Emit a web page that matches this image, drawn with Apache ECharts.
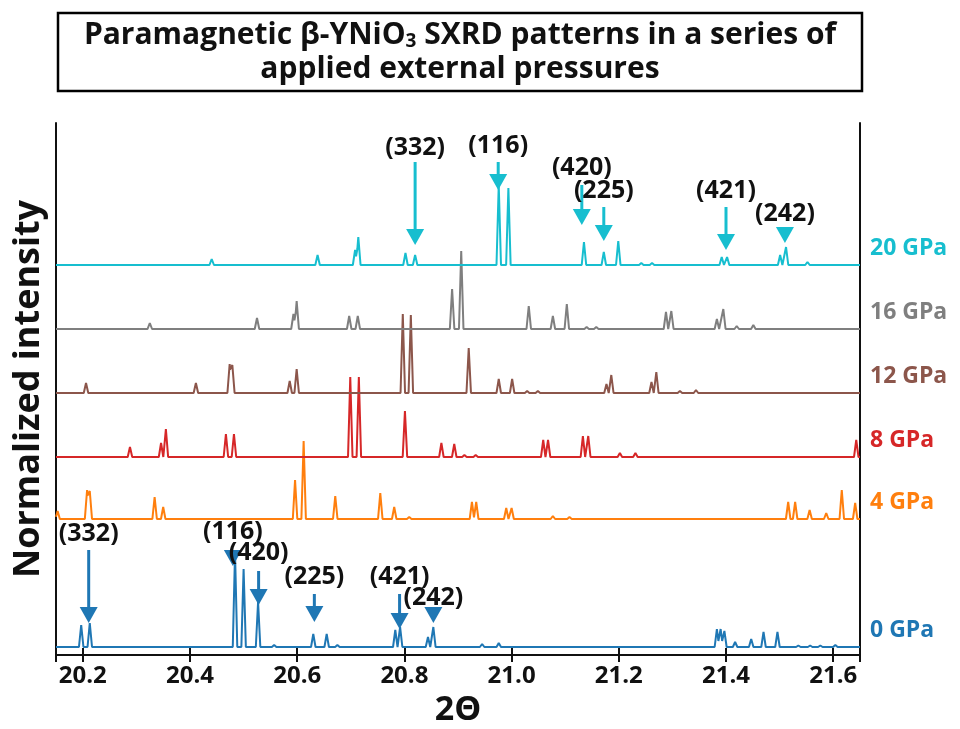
<!DOCTYPE html>
<html><head><meta charset="utf-8">
<script src="https://cdn.jsdelivr.net/npm/echarts@6/dist/echarts.min.js"></script>
<style>html,body{margin:0;padding:0;background:#fff}#c{width:960px;height:729px}</style>
</head><body><div id="c"></div>
<script>
// ---- data ----
const pressures = ['0 GPa', '4 GPa', '8 GPa', '12 GPa', '16 GPa', '20 GPa'];
const offsets = [0.08, 1.36, 1.98, 2.62, 3.26, 3.90];   // vertical stacking offset of each pattern
const colors = ['#1f77b4', '#ff7f0e', '#d62728', '#8c564b', '#7f7f7f', '#17becf'];

const pos0 = [20.197, 20.213, 20.484, 20.500, 20.527, 20.557, 20.630, 20.655, 20.675, 20.783, 20.792, 20.844, 20.854, 20.945, 20.976, 21.383, 21.390, 21.397, 21.417, 21.447, 21.470, 21.496, 21.535, 21.557, 21.576, 21.604];
const int0 = [0.22, 0.24, 0.94, 0.78, 0.45, 0.02, 0.13, 0.13, 0.02, 0.17, 0.20, 0.10, 0.20, 0.03, 0.04, 0.18, 0.18, 0.16, 0.05, 0.08, 0.15, 0.15, 0.015, 0.015, 0.015, 0.02];

const pos4 = [20.153, 20.208, 20.213, 20.334, 20.350, 20.596, 20.612, 20.671, 20.755, 20.781, 20.809, 20.926, 20.934, 20.990, 21.000, 21.077, 21.108, 21.516, 21.529, 21.556, 21.587, 21.616, 21.641];
const int4 = [0.08, 0.29, 0.28, 0.22, 0.12, 0.39, 0.78, 0.23, 0.26, 0.12, 0.02, 0.17, 0.17, 0.11, 0.11, 0.03, 0.02, 0.17, 0.17, 0.09, 0.06, 0.29, 0.16];

const pos8 = [20.288, 20.346, 20.355, 20.467, 20.482, 20.699, 20.715, 20.801, 20.869, 20.893, 20.912, 20.933, 21.059, 21.068, 21.133, 21.143, 21.202, 21.231, 21.643];
const int8 = [0.10, 0.14, 0.28, 0.23, 0.23, 0.80, 0.80, 0.46, 0.14, 0.13, 0.02, 0.02, 0.17, 0.17, 0.21, 0.21, 0.04, 0.04, 0.17];

const pos12 = [20.206, 20.411, 20.474, 20.479, 20.586, 20.599, 20.797, 20.812, 20.920, 20.976, 21.001, 21.029, 21.049, 21.177, 21.186, 21.261, 21.270, 21.314, 21.344];
const int12 = [0.10, 0.10, 0.29, 0.28, 0.12, 0.24, 0.79, 0.78, 0.45, 0.14, 0.14, 0.02, 0.02, 0.09, 0.18, 0.11, 0.21, 0.02, 0.03];

const pos16 = [20.325, 20.525, 20.593, 20.599, 20.697, 20.713, 20.889, 20.906, 21.032, 21.077, 21.103, 21.140, 21.158, 21.288, 21.298, 21.383, 21.395, 21.420, 21.451];
const int16 = [0.06, 0.11, 0.15, 0.28, 0.13, 0.13, 0.40, 0.78, 0.23, 0.13, 0.25, 0.02, 0.02, 0.17, 0.18, 0.10, 0.20, 0.03, 0.04];

const pos20 = [20.4405, 20.638, 20.708, 20.714, 20.802, 20.820, 20.976, 20.994, 21.135, 21.172, 21.199, 21.242, 21.262, 21.392, 21.402, 21.501, 21.512, 21.552];
const int20 = [0.06, 0.10, 0.15, 0.28, 0.12, 0.10, 0.80, 0.77, 0.23, 0.13, 0.24, 0.02, 0.02, 0.08, 0.08, 0.10, 0.18, 0.03];

// peak annotations (hkl), arrow x, arrow tip y, arrow tail y, label y
const hkl = ['(332)', '(116)', '(420)', '(225)', '(421)', '(242)'];
const annX20 = [20.820, 20.975, 21.131, 21.172, 21.400, 21.510];
const annTip20 = [4.10, 4.65, 4.30, 4.14, 4.05, 4.12];
const annTail20 = [4.93, 4.93, 4.70, 4.48, 4.48, 4.28];
const annLab20 = [5.07, 5.09, 4.87, 4.64, 4.64, 4.41];
const annX0 = [20.211, 20.480, 20.528, 20.632, 20.791, 20.854];
const annTip0 = [0.32, 0.89, 0.50, 0.33, 0.26, 0.32];
const annTail0 = [1.05, 1.04, 0.84, 0.61, 0.61, 0.48];
const annLab0 = [1.21, 1.23, 1.02, 0.78, 0.78, 0.57];

const X_MIN = 20.15, X_MAX = 21.65, Y_MAX = 5.32;
const FONT = '"Open Sans", "Noto Sans", sans-serif';

// ---- build line tables ----
function profile(pos, ints, base) {
  const hw = 0.0042;
  const xs = new Set([X_MIN, X_MAX]);
  pos.forEach(p => { xs.add(p - hw); xs.add(p); xs.add(p + hw); });
  const arr = [...xs].filter(x => x >= X_MIN && x <= X_MAX).sort((a, b) => a - b);
  return arr.map(x => {
    let y = base;
    pos.forEach((p, i) => { const d = Math.abs(x - p); if (d < hw) y += ints[i] * (1 - d / hw); });
    return [x, y];
  });
}
const allPos = [pos0, pos4, pos8, pos12, pos16, pos20];
const allInt = [int0, int4, int8, int12, int16, int20];

const lineSeries = pressures.map((name, k) => ({
  type: 'line', name, data: profile(allPos[k], allInt[k], offsets[k]),
  showSymbol: false, symbol: 'none', lineStyle: { color: colors[k], width: 2 },
  itemStyle: { color: colors[k] }, z: 2 + k,
  endLabel: { show: true, formatter: name, color: colors[k], fontFamily: FONT, fontWeight: 'bold', fontSize: 23, offset: [2, -17] }
}));

function arrowSeries(xs, tips, tails, labs, color) {
  return {
    type: 'custom', xAxisIndex: 0, yAxisIndex: 0, z: 20, clip: false,
    data: xs.map((x, i) => [x, tips[i], tails[i], labs[i]]),
    renderItem(params, api) {
      const i = params.dataIndex;
      const tip = api.coord([api.value(0), api.value(1)]);
      const tail = api.coord([api.value(0), api.value(2)]);
      const lab = api.coord([api.value(0), api.value(3)]);
      const hh = 16, hw = 9;
      const kids = [];
      if (tail[1] < tip[1] - hh) {
        kids.push({ type: 'line', shape: { x1: tip[0], y1: tail[1], x2: tip[0], y2: tip[1] - hh + 1 }, style: { stroke: color, lineWidth: 3 } });
      }
      kids.push({ type: 'polygon', shape: { points: [[tip[0] - hw, tip[1] - hh], [tip[0] + hw, tip[1] - hh], [tip[0], tip[1]]] }, style: { fill: color } });
      kids.push({ type: 'text', style: { text: hkl[i], x: lab[0], y: lab[1], align: 'center', verticalAlign: 'middle', fill: '#111', font: 'bold 25px ' + FONT } });
      return { type: 'group', children: kids };
    }
  };
}

const chart = echarts.init(document.getElementById('c'), null, { renderer: 'canvas' });
chart.setOption({
  animation: false,
  backgroundColor: '#fff',
  grid: { left: 56, right: 100, top: 123, bottom: 74, containLabel: false, outerBoundsMode: 'none' },
  xAxis: [{
    type: 'value', min: X_MIN, max: X_MAX, splitNumber: 7, position: 'bottom',
    axisLine: { show: true, lineStyle: { color: '#111', width: 2 } },
    axisTick: { show: true, inside: true, length: 7, lineStyle: { color: '#111', width: 2 } },
    axisLabel: { showMinLabel: false, showMaxLabel: false, formatter: v => v.toFixed(1), color: '#111', fontFamily: FONT, fontWeight: 'bold', fontSize: 24, margin: 9 },
    splitLine: { show: false },
    name: '2Θ', nameLocation: 'middle', nameGap: 38,
    nameTextStyle: { color: '#111', fontFamily: FONT, fontWeight: 'bold', fontSize: 34 }
  }, {
    type: 'value', min: X_MIN, max: X_MAX, splitNumber: 7, position: 'top',
    axisLine: { show: true, lineStyle: { color: '#111', width: 2 } },
    axisTick: { show: true, inside: true, length: 7, lineStyle: { color: '#111', width: 2 } },
    axisLabel: { show: false }, splitLine: { show: false }
  }],
  yAxis: [{
    type: 'value', min: 0, max: Y_MAX, position: 'left',
    axisLine: { show: true, lineStyle: { color: '#111', width: 2 } },
    axisTick: { show: false }, axisLabel: { show: false }, splitLine: { show: false },
    name: 'Normalized intensity', nameLocation: 'middle', nameGap: 9,
    nameTextStyle: { color: '#111', fontFamily: FONT, fontWeight: 'bold', fontSize: 36 }
  }, {
    type: 'value', min: 0, max: Y_MAX, position: 'right',
    axisLine: { show: true, lineStyle: { color: '#111', width: 2 } },
    axisTick: { show: false }, axisLabel: { show: false }, splitLine: { show: false }
  }],
  graphic: [{
    type: 'rect', shape: { x: 58, y: 13, width: 804, height: 78 },
    style: { fill: '#fff', stroke: '#000', lineWidth: 2.5 }
  }, {
    type: 'text', x: 460, y: 35,
    style: {
      text: 'Paramagnetic β-YNiO{s|3} SXRD patterns in a series of',
      align: 'center', verticalAlign: 'middle', fill: '#111', font: 'bold 30px ' + FONT,
      rich: { s: { fontSize: 19, fontWeight: 'bold', fontFamily: FONT, fill: '#111', padding: [14, 0, 0, 0] } }
    }
  }, {
    type: 'text', x: 460, y: 69,
    style: { text: 'applied external pressures', align: 'center', verticalAlign: 'middle', fill: '#111', font: 'bold 30px ' + FONT }
  }],
  series: [...lineSeries,
    arrowSeries(annX20, annTip20, annTail20, annLab20, colors[5]),
    arrowSeries(annX0, annTip0, annTail0, annLab0, colors[0])]
});
</script>
</body></html>
